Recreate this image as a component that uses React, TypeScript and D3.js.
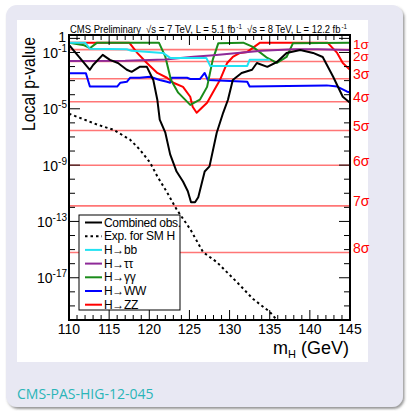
import React from 'react';
import * as d3 from 'd3';

// Higgs mass hypotheses (GeV) shown on the x axis
const massTicks = [110, 115, 120, 125, 130, 135, 140, 145];
const minorMassTicks = d3.range(110, 146, 1);

// Decades labelled on the log axis
const labelledExponents = [0, -1, -5, -9, -13, -17];
const allExponents = d3.range(-20, 1, 1);

// Significance reference levels (one-sided local p-value)
const sigmaLabels = ['1σ', '2σ', '3σ', '4σ', '5σ', '6σ', '7σ', '8σ'];
const sigmaP = [1.587e-1, 2.275e-2, 1.35e-3, 3.167e-5, 2.867e-7, 9.866e-10, 1.28e-12, 6.221e-16];

// [mass, local p-value]
const combinedObs: [number, number][] = [
  [110, 0.34], [112.6, 5.9e-3], [113.0, 1.3e-2], [114.2, 6.8e-2], [115.1, 3.0e-2],
  [116.1, 1.8e-2], [117.2, 5.9e-3], [117.8, 4.2e-3], [118.8, 9.5e-3], [119.7, 9.5e-3],
  [120.5, 1.1e-3], [121.0, 4.4e-5], [121.3, 1.7e-6], [122.0, 2.0e-7], [122.6, 5.8e-9],
  [123.4, 3.5e-10], [124.2, 6.9e-11], [124.8, 1.4e-11], [125.2, 2.3e-12], [125.7, 2.3e-12],
  [126.1, 5.2e-12], [126.9, 3.5e-10], [127.5, 8.1e-10], [128.4, 2.0e-7], [129.2, 5.2e-6],
  [129.8, 4.4e-5], [130.4, 1.1e-3], [131.5, 3.5e-3], [132.8, 5.9e-3], [133.4, 1.8e-2],
  [134.7, 9.5e-3], [135.9, 2.1e-2], [137.1, 9.3e-2], [138.8, 0.15], [140.4, 9.3e-2],
  [141.6, 4.8e-2], [142.9, 1.9e-3], [144.1, 7.2e-5], [145, 2.7e-5],
];

const expectedSM: [number, number][] = [
  [110, 4.5e-6], [113.5, 7.6e-7], [115.5, 3.3e-7], [117.6, 6.5e-8], [118.8, 1.3e-8],
  [120.1, 1.5e-9], [121.0, 1.6e-10], [122.2, 1.2e-11], [123.4, 7.2e-13], [125.1, 2.8e-14],
  [126.7, 6.6e-16], [128.4, 1.3e-16], [130.9, 5.0e-18], [132.9, 3.2e-19], [135.0, 3.8e-20],
  [136.5, 4e-21],
];

const hbb: [number, number][] = [
  [110, 0.5], [112, 0.5], [112.6, 0.18], [117.2, 0.17], [117.8, 0.13], [121.7, 0.093],
  [122.6, 0.041], [127.1, 0.041], [127.6, 0.011], [132.2, 0.011], [132.5, 0.03], [135, 0.03],
];

const htautau: [number, number][] = [
  [110, 0.025], [117, 0.026], [122, 0.032], [125.5, 0.05], [128, 0.063], [131, 0.09],
  [134, 0.13], [138, 0.17], [141, 0.17], [145, 0.15],
];

const hgg: [number, number][] = [
  [110, 0.5], [111.9, 0.32], [112.6, 0.2], [113.5, 0.5], [121.2, 0.5], [122.0, 0.05],
  [122.7, 1.1e-3], [123.6, 1.4e-4], [125.1, 1.9e-5], [126.3, 4.4e-5], [127.2, 3.6e-4],
  [127.9, 0.03], [128.6, 0.46], [131.7, 0.5], [132.9, 0.25], [134.7, 0.041], [135.9, 0.018],
  [137.1, 0.048], [137.9, 0.46], [145, 0.5],
];

const hww: [number, number][] = [
  [110, 3.4e-3], [112.1, 3.4e-3], [112.6, 3.8e-4], [116.0, 3.8e-4], [116.4, 7.1e-4],
  [117.2, 8.3e-4], [117.6, 1.6e-3], [118.8, 1.6e-3], [120.1, 1.9e-3], [121.3, 1.1e-3],
  [122.2, 8.3e-4], [122.6, 7.1e-4], [122.8, 1.6e-3], [124.7, 1.6e-3], [125.1, 1.3e-3],
  [126.3, 1.3e-3], [126.9, 3.5e-3], [127.3, 1.1e-3], [132.2, 8.3e-4], [132.5, 3.8e-4],
  [142.1, 4.6e-4], [143.4, 3.8e-4], [144.6, 1.7e-4], [145, 1.4e-4],
];

const hzz: [number, number][] = [
  [110, 0.5], [117.5, 0.5], [118.5, 0.093], [119.7, 0.018], [121.0, 3.5e-3], [122.2, 1.6e-3],
  [123.0, 7.1e-4], [124.2, 3.6e-4], [125.1, 7.2e-5], [125.4, 1.4e-5], [125.9, 5.2e-6],
  [127.2, 2.7e-5], [127.9, 1.4e-4], [128.8, 1.1e-3], [129.7, 0.018], [130.4, 0.048],
  [131.3, 0.093], [132.2, 0.11], [133.8, 0.5], [142.2, 0.5], [143.4, 0.093], [144.1, 0.018],
  [145, 5.9e-3],
];

const channels = [
  { name: 'H → ZZ', data: hzz, color: '#ff0000' },
  { name: 'H → WW', data: hww, color: '#0000ff' },
  { name: 'H → γγ', data: hgg, color: '#1a8c1a' },
  { name: 'H → ττ', data: htautau, color: '#8e2a98' },
  { name: 'H → bb', data: hbb, color: '#22e2f2' },
];

const legendEntries = [
  { name: 'Combined obs.', color: '#000', dash: '' },
  { name: 'Exp. for SM H', color: '#000', dash: '2.5,3' },
  { name: 'H→bb', color: '#22e2f2', dash: '' },
  { name: 'H→ττ', color: '#8e2a98', dash: '' },
  { name: 'H→γγ', color: '#1a8c1a', dash: '' },
  { name: 'H→WW', color: '#0000ff', dash: '' },
  { name: 'H→ZZ', color: '#ff0000', dash: '' },
];

const L = 69, R = 350, T = 35, B = 320;
const SANS = '"Liberation Sans", Arial, Helvetica, sans-serif';

export default function App() {
  const x = d3.scaleLinear().domain([110, 145]).range([L, R]);
  const y = d3.scaleLog().domain([1e-20, 1.74]).range([B, T]);
  const line = d3
    .line<[number, number]>()
    .x((d) => x(d[0]))
    .y((d) => y(d[1]));

  return (
    <svg
      width={410}
      height={411}
      style={{ position: 'absolute', left: 0, top: 0, display: 'block' }}
      fontFamily={SANS}
    >
      <defs>
        <filter id="cardShadow" x="-5%" y="-5%" width="110%" height="110%">
          <feDropShadow dx="1.5" dy="2" stdDeviation="1.2" floodColor="#444" floodOpacity="0.55" />
        </filter>
        <clipPath id="plotArea">
          <rect x={L} y={T} width={R - L} height={B - T} />
        </clipPath>
      </defs>

      <rect x={0} y={0} width={410} height={411} fill="#ffffff" />
      <rect x={6} y={5} width={397} height={402} rx={11} fill="#e8e8f3" filter="url(#cardShadow)" />
      <rect x={17} y={20} width={351} height={342} fill="#ffffff" />

      {/* significance reference lines */}
      {sigmaP.map((p, i) => (
        <line key={i} x1={L} x2={R} y1={y(p)} y2={y(p)} stroke="#ff7676" strokeWidth={1.6} />
      ))}

      <g clipPath="url(#plotArea)" fill="none" strokeLinejoin="round">
        {channels.map((c) => (
          <path key={c.name} d={line(c.data) ?? ''} stroke={c.color} strokeWidth={2} />
        ))}
        <path d={line(combinedObs) ?? ''} stroke="#000" strokeWidth={2} />
        <path d={line(expectedSM) ?? ''} stroke="#000" strokeWidth={2} strokeDasharray="2.5,3" />
      </g>

      {/* axis ticks */}
      <g stroke="#000" strokeWidth={1}>
        {minorMassTicks.map((m) => {
          const major = massTicks.includes(m);
          const len = major ? 10 : 5;
          return (
            <g key={m}>
              <line x1={x(m)} x2={x(m)} y1={B} y2={B - len} />
              <line x1={x(m)} x2={x(m)} y1={T} y2={T + len} />
            </g>
          );
        })}
        {allExponents.map((e) => {
          const major = labelledExponents.includes(e);
          const len = major ? 11 : 6;
          const yy = y(Math.pow(10, e));
          return (
            <g key={e}>
              <line x1={L} x2={L + len} y1={yy} y2={yy} />
              <line x1={R} x2={R - len} y1={yy} y2={yy} />
            </g>
          );
        })}
      </g>

      {/* frame */}
      <rect x={L} y={T} width={R - L} height={B - T} fill="none" stroke="#000" strokeWidth={2} />

      {/* y tick labels */}
      {labelledExponents.map((e) => {
        const yy = y(Math.pow(10, e));
        if (e === 0)
          return (
            <text key={e} x={66} y={yy + 3.5} fontSize={14} textAnchor="end">
              1
            </text>
          );
        return (
          <text key={e} x={67} y={yy + 5.5} fontSize={14} textAnchor="end">
            10
            <tspan dy={-6} fontSize={10}>
              {String(e)}
            </tspan>
          </text>
        );
      })}

      {/* x tick labels */}
      {massTicks.map((m) => (
        <text key={m} x={x(m)} y={334} fontSize={14} textAnchor="middle">
          {m}
        </text>
      ))}

      {/* axis titles */}
      <text
        transform="translate(35,37) rotate(-90)"
        textAnchor="end"
        fontSize={18}
        textLength={94}
        lengthAdjust="spacingAndGlyphs"
      >
        Local p-value
      </text>
      <text x={349} y={354} fontSize={18} textAnchor="end">
        m<tspan dy={4} fontSize={11}>H</tspan>
        <tspan dy={-4}> (GeV)</tspan>
      </text>

      {/* sigma labels */}
      {sigmaP.map((p, i) => (
        <text
          key={i}
          x={353}
          y={y(p) + (i === 0 ? -0.5 : i === 1 ? -0.5 : 0.5)}
          fontSize={i < 2 ? 13.5 : 14}
          fill="#ff0000"
        >
          {sigmaLabels[i]}
        </text>
      ))}

      {/* header */}
      <g fontSize={10.5}>
        <text x={70} y={33} textLength={71} lengthAdjust="spacingAndGlyphs">
          CMS Preliminary
        </text>
        <text x={146} y={33} textLength={96} lengthAdjust="spacingAndGlyphs">
          √s = 7 TeV, L = 5.1 fb
          <tspan dx={1} dy={-4} fontSize={7}>-1</tspan>
        </text>
        <text x={247} y={33} textLength={100} lengthAdjust="spacingAndGlyphs">
          √s = 8 TeV, L = 12.2 fb
          <tspan dx={1} dy={-4} fontSize={7}>-1</tspan>
        </text>
      </g>

      {/* legend */}
      <g>
        <rect x={79} y={215} width={101} height={95} fill="#fff" stroke="#000" strokeWidth={1} />
        {legendEntries.map((en, i) => {
          const yy = 222.5 + i * 13.7;
          return (
            <g key={en.name}>
              <line
                x1={85}
                x2={102}
                y1={yy}
                y2={yy}
                stroke={en.color}
                strokeWidth={2}
                strokeDasharray={en.dash || undefined}
              />
              <text x={104} y={yy + 4} fontSize={12} letterSpacing={-0.3}>
                {en.name}
              </text>
            </g>
          );
        })}
      </g>

      {/* caption */}
      <text x={17} y={399} fontSize={14} fill="#2ab5b8" fontFamily='"Open Sans", "Noto Sans", sans-serif'>
        CMS-PAS-HIG-12-045
      </text>
    </svg>
  );
}
